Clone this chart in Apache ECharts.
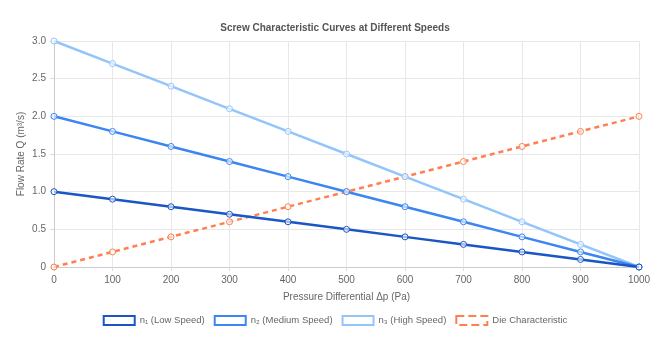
<!DOCTYPE html>
<html><head><meta charset="utf-8">
<script src="https://cdn.jsdelivr.net/npm/echarts@6/dist/echarts.min.js"></script>
<style>html,body{margin:0;padding:0;background:#fff}#c{width:670px;height:341px}</style>
</head><body><div id="c"></div>
<script>
const pressure = [0,100,200,300,400,500,600,700,800,900,1000];
const n1 = [1.0,0.9,0.8,0.7,0.6,0.5,0.4,0.3,0.2,0.1,0];
const n2 = [2.0,1.8,1.6,1.4,1.2,1.0,0.8,0.6,0.4,0.2,0];
const n3 = [3.0,2.7,2.4,2.1,1.8,1.5,1.2,0.9,0.6,0.3,0];
const die = [0,0.2,0.4,0.6,0.8,1.0,1.2,1.4,1.6,1.8,2.0];
const names = ['n₁ (Low Speed)','n₂ (Medium Speed)','n₃ (High Speed)','Die Characteristic'];
const colors = ['#1a56c4','#3b86f2','#93c5fb','#ff7f50'];
const sets = [n1,n2,n3,die];
const font = 'Liberation Sans, Arial, sans-serif';
const chart = echarts.init(document.getElementById('c'));
chart.setOption({
  animation:false,
  title:{text:'Screw Characteristic Curves at Different Speeds',left:'center',top:18,
    textStyle:{fontSize:10,fontWeight:'bold',color:'#555',fontFamily:font}},
  grid:{left:54,right:31,top:41,bottom:74},
  legend:{bottom:10,left:'center',icon:'rect',itemWidth:31,itemHeight:9,itemGap:9,
    textStyle:{fontSize:9.5,color:'#666',fontFamily:font},
    data:names.map((n,i)=>({name:n,itemStyle:{color:'#fff',borderColor:colors[i],borderWidth:2,borderType:i===3?'dashed':'solid'}}))},
  xAxis:{type:'value',min:0,max:1000,interval:100,name:'Pressure Differential Δp (Pa)',nameLocation:'middle',nameGap:25,nameMoveOverlap:false,
    nameTextStyle:{fontSize:10,color:'#666',fontFamily:font},
    axisLine:{lineStyle:{color:'#ccc'}},axisTick:{show:true,length:4,lineStyle:{color:'#ddd'}},
    axisLabel:{fontSize:10,color:'#666',fontFamily:font,margin:8,formatter:v=>String(v)},
    splitLine:{lineStyle:{color:'#e8e8e8'}}},
  yAxis:{type:'value',min:0,max:3,interval:0.5,name:'Flow Rate Q (m³/s)',nameLocation:'middle',nameGap:28,nameMoveOverlap:false,
    nameTextStyle:{fontSize:10,color:'#666',fontFamily:font},
    axisLine:{show:true,lineStyle:{color:'#ccc'}},axisTick:{show:true,length:4,lineStyle:{color:'#ddd'}},
    axisLabel:{fontSize:10,color:'#666',fontFamily:font,margin:8,formatter:v=>v===0?'0':v.toFixed(1)},
    splitLine:{lineStyle:{color:'#e8e8e8'}}},
  series:sets.map((d,i)=>({name:names[i],type:'line',z:10-i,
    data:pressure.map((p,j)=>[p,d[j]]),
    symbol:'circle',symbolSize:6,showSymbol:true,
    lineStyle:{color:colors[i],width:2.5,type:i===3?[5,4]:'solid'},
    itemStyle:{color:'rgba(255,255,255,0.6)',borderColor:colors[i],borderWidth:1}}))
});
</script></body></html>
